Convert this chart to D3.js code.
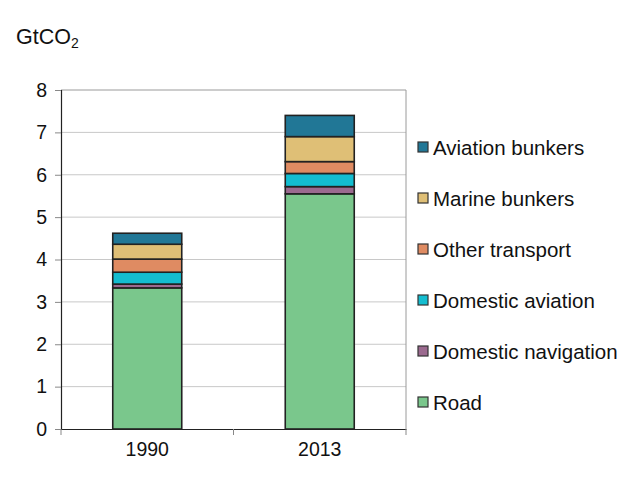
<!DOCTYPE html>
<html>
<head>
<meta charset="utf-8">
<script src="https://cdn.jsdelivr.net/npm/d3@7"></script>
<style>
  body { margin: 0; background: #fff; }
  text { font-family: "Liberation Sans", Arial, sans-serif; fill: #111; }
</style>
</head>
<body>
<svg width="638" height="493"></svg>
<script>
const years = ["1990", "2013"]
const series = ["Road", "Domestic navigation", "Domestic aviation", "Other transport", "Marine bunkers", "Aviation bunkers"]
const road = [3.33, 5.55]
const domNav = [0.09, 0.17]
const domAviation = [0.28, 0.31]
const otherTransport = [0.31, 0.28]
const marineBunkers = [0.35, 0.59]
const aviationBunkers = [0.26, 0.50]
const colors = ["#7ac78c", "#9b6a8f", "#14bdd0", "#df8b62", "#dfbf76", "#217796"]
const yTicks = [0, 1, 2, 3, 4, 5, 6, 7, 8]

const values = [road, domNav, domAviation, otherTransport, marineBunkers, aviationBunkers]
const rows = years.map((y, i) => {
  const r = {year: y}
  series.forEach((s, k) => r[s] = values[k][i])
  return r
})
const stacked = d3.stack().keys(series)(rows)

const svg = d3.select("svg")
const plotL = 61, plotR = 406, plotT = 90, plotB = 429

const x = d3.scaleBand().domain(years).range([plotL, plotR]).paddingInner(0).paddingOuter(0)
const y = d3.scaleLinear().domain([0, 8]).range([plotB, plotT])

// gridlines
svg.append("g")
  .selectAll("line")
  .data(yTicks.filter(t => t > 0 && t < 8))
  .enter().append("line")
  .attr("x1", plotL).attr("x2", plotR)
  .attr("y1", d => y(d)).attr("y2", d => y(d))
  .attr("stroke", "#c8c8c8").attr("stroke-width", 1)

// top/right box
svg.append("path")
  .attr("d", `M${plotL},${plotT}H${plotR}V${plotB}`)
  .attr("fill", "none").attr("stroke", "#9a9a9a").attr("stroke-width", 1)

// bars
const barW = x.bandwidth() * 0.4
svg.append("g")
  .selectAll("g")
  .data(stacked)
  .enter().append("g")
  .attr("fill", (d, i) => colors[i])
  .selectAll("rect")
  .data(d => d)
  .enter().append("rect")
  .attr("x", d => x(d.data.year) + (x.bandwidth() - barW) / 2)
  .attr("width", barW)
  .attr("y", d => y(d[1]))
  .attr("height", d => y(d[0]) - y(d[1]))
  .attr("stroke", "#222").attr("stroke-width", 1.6)

// y axis
const yAxis = svg.append("g")
  .attr("transform", `translate(${plotL},0)`)
  .call(d3.axisLeft(y).tickValues(yTicks).tickSize(6).tickPadding(8).tickFormat(d3.format("d")))
yAxis.select(".domain").attr("stroke", "#222").attr("stroke-width", 1.2)
yAxis.selectAll(".tick line").attr("stroke", "#888")
yAxis.selectAll("text").style("font-size", "19.5px").attr("fill", "#111")

// x axis
const xAxis = svg.append("g")
  .attr("transform", `translate(0,${plotB})`)
  .call(d3.axisBottom(x).tickSize(0).tickPadding(13))
xAxis.select(".domain").attr("stroke", "#222").attr("stroke-width", 1.2)
xAxis.selectAll("text").style("font-size", "19.5px").attr("fill", "#111")
xAxis.selectAll(".sep")
  .data([plotL, plotL + x.bandwidth(), plotR])
  .enter().append("line")
  .attr("x1", d => d).attr("x2", d => d)
  .attr("y1", 0).attr("y2", 6)
  .attr("stroke", "#888")

// unit label
const unit = svg.append("text").attr("x", 16).attr("y", 44).style("font-size", "21.5px")
unit.append("tspan").text("GtCO")
unit.append("tspan").text("2").attr("dy", 4).style("font-size", "14px")

// legend (top-down reversed order)
const legendItems = series.slice().reverse()
const lg = svg.append("g")
  .selectAll("g")
  .data(legendItems)
  .enter().append("g")
  .attr("transform", (d, i) => `translate(418,${147 + i * 51})`)
lg.append("rect")
  .attr("x", 0).attr("y", -5).attr("width", 10).attr("height", 10)
  .attr("fill", d => colors[series.indexOf(d)])
  .attr("stroke", "#333").attr("stroke-width", 1.2)
lg.append("text")
  .attr("x", 15).attr("y", 7.5)
  .style("font-size", "20.5px")
  .text(d => d)
</script>
</body>
</html>
